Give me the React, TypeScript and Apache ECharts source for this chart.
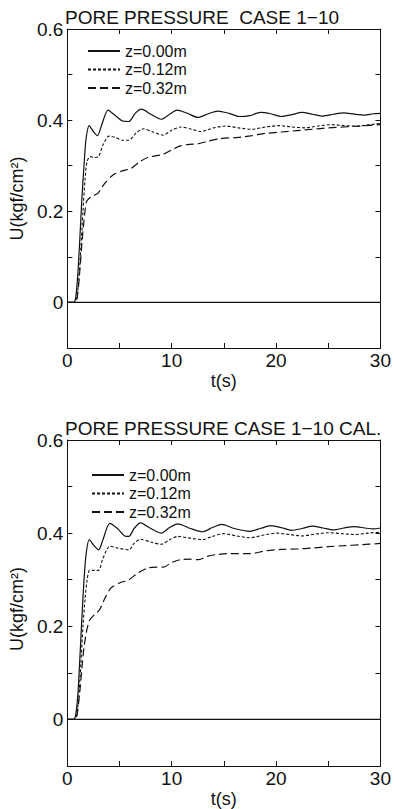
import React, { useEffect, useRef } from "react";
import * as echarts from "echarts";

const titles = ["PORE PRESSURE  CASE 1\u221210", "PORE PRESSURE CASE 1\u221210 CAL."];
const seriesNames = ["z=0.00m", "z=0.12m", "z=0.32m"];
const xName = "t(s)";
const yName = "U(kgf/cm\u00b2)";

// Measured case (top panel)
const measZ000: number[][] = [
  [0, 0], [0.6, 0], [0.8, 0.01], [1.0, 0.06], [1.2, 0.14], [1.4, 0.23], [1.6, 0.3], [1.8, 0.36],
  [2.1, 0.388], [2.5, 0.375], [2.9, 0.366], [3.3, 0.39], [3.9, 0.422], [4.6, 0.41], [5.3, 0.398],
  [5.9, 0.397], [6.5, 0.415], [7.1, 0.424], [8.0, 0.413], [9.0, 0.402], [9.8, 0.413], [10.5, 0.422],
  [11.5, 0.415], [12.5, 0.406], [13.5, 0.414], [14.4, 0.42], [15.5, 0.415], [16.5, 0.408],
  [17.5, 0.41], [18.5, 0.417], [19.5, 0.414], [20.5, 0.408], [21.5, 0.412], [22.5, 0.417],
  [23.5, 0.413], [24.5, 0.409], [25.5, 0.413], [26.5, 0.416], [27.5, 0.413], [28.5, 0.411],
  [29.3, 0.414], [30, 0.415],
];
const measZ012: number[][] = [
  [0, 0], [0.7, 0], [0.9, 0.01], [1.1, 0.05], [1.3, 0.12], [1.5, 0.2], [1.7, 0.27], [1.9, 0.31],
  [2.2, 0.32], [2.6, 0.318], [3.0, 0.32], [3.4, 0.345], [4.0, 0.365], [4.6, 0.362], [5.3, 0.356],
  [5.9, 0.356], [6.6, 0.372], [7.3, 0.381], [8.2, 0.374], [9.2, 0.367], [10.0, 0.378], [10.9, 0.385],
  [11.9, 0.38], [12.8, 0.375], [14.0, 0.383], [15.2, 0.387], [16.4, 0.383], [17.7, 0.38],
  [19, 0.385], [20.3, 0.388], [21.5, 0.385], [22.8, 0.383], [24, 0.387], [25.3, 0.39],
  [26.5, 0.388], [27.8, 0.387], [29, 0.39], [30, 0.393],
];
const measZ032: number[][] = [
  [0, 0], [0.8, 0], [1.0, 0.02], [1.2, 0.07], [1.4, 0.13], [1.6, 0.18], [1.85, 0.222], [2.3, 0.232],
  [2.95, 0.24], [3.6, 0.262], [4.4, 0.28], [5.2, 0.288], [6.1, 0.294], [6.9, 0.308], [7.7, 0.318],
  [8.5, 0.322], [9.2, 0.325], [10.1, 0.336], [10.9, 0.344], [11.7, 0.347], [12.5, 0.348],
  [13.5, 0.354], [14.6, 0.359], [15.5, 0.361], [16.4, 0.362], [17.7, 0.366], [19, 0.371],
  [20.5, 0.374], [22, 0.377], [23.5, 0.38], [25, 0.383], [26.5, 0.385], [28, 0.387], [30, 0.39],
];

// Calculated case (bottom panel)
const calcZ000: number[][] = [
  [0, 0], [0.6, 0], [0.8, 0.01], [1.0, 0.05], [1.2, 0.13], [1.4, 0.22], [1.6, 0.3], [1.8, 0.355],
  [2.1, 0.386], [2.6, 0.372], [3.0, 0.364], [3.4, 0.385], [4.07, 0.421], [4.8, 0.41], [5.5, 0.394],
  [5.9, 0.393], [6.4, 0.41], [7.0, 0.422], [8.0, 0.41], [9.0, 0.4], [9.8, 0.412], [10.6, 0.42],
  [11.8, 0.41], [12.95, 0.403], [13.9, 0.412], [14.8, 0.419], [16, 0.41], [17.5, 0.404],
  [18.5, 0.41], [19.5, 0.416], [20.5, 0.412], [21.5, 0.406], [22.5, 0.41], [23.5, 0.415],
  [24.5, 0.411], [25.5, 0.407], [26.5, 0.411], [27.5, 0.414], [28.5, 0.411], [29.3, 0.409],
  [30, 0.411],
];
const calcZ012: number[][] = [
  [0, 0], [0.7, 0], [0.9, 0.01], [1.1, 0.05], [1.3, 0.12], [1.5, 0.2], [1.7, 0.26], [1.9, 0.3],
  [2.13, 0.32], [2.6, 0.32], [3.0, 0.32], [3.4, 0.345], [4.07, 0.372], [4.8, 0.368], [5.9, 0.364],
  [6.4, 0.378], [7.0, 0.387], [8.0, 0.381], [9.0, 0.376], [9.8, 0.386], [10.6, 0.393],
  [11.8, 0.389], [12.95, 0.386], [13.9, 0.393], [14.9, 0.399], [16.2, 0.394], [17.5, 0.39],
  [18.8, 0.396], [20, 0.4], [21.3, 0.397], [22.5, 0.394], [23.8, 0.398], [25, 0.401],
  [26.3, 0.399], [27.5, 0.397], [28.8, 0.4], [30, 0.402],
];
const calcZ032: number[][] = [
  [0, 0], [0.8, 0], [1.0, 0.02], [1.2, 0.06], [1.4, 0.11], [1.6, 0.155], [1.85, 0.19],
  [2.13, 0.213], [2.6, 0.225], [3.07, 0.235], [3.6, 0.26], [4.17, 0.282], [5.0, 0.293],
  [5.9, 0.3], [6.8, 0.315], [7.7, 0.325], [8.5, 0.327], [9.2, 0.327], [10.0, 0.337],
  [10.8, 0.343], [11.7, 0.344], [12.6, 0.343], [13.4, 0.35], [14.3, 0.354], [15.5, 0.356],
  [17.5, 0.356], [19, 0.362], [20.5, 0.365], [22, 0.366], [23.5, 0.368], [25, 0.371],
  [26.5, 0.373], [28, 0.375], [30, 0.378],
];

const zeroLine: number[][] = [[0, 0], [30, 0]];

const FONT = "'Liberation Sans', Arial, Helvetica, sans-serif";
const INK = "#111";

export default function App() {
  const ref = useRef<HTMLDivElement>(null);
  useEffect(() => {
    if (!ref.current) return;
    const chart = echarts.init(ref.current, null, { renderer: "svg" });

    const grids = [
      { left: 62, top: 29, width: 319, height: 319 },
      { left: 64, top: 440, width: 319, height: 331 },
    ];
    const yNamePad = [[0, 20, 0, 0], [0, 12, 0, 0]];

    const xAxes: any[] = [];
    const yAxes: any[] = [];
    grids.forEach((_, i) => {
      const common = {
        type: "value",
        gridIndex: i,
        axisLine: { show: true, onZero: false, lineStyle: { color: INK, width: 1 } },
        axisTick: { show: true, inside: true, length: 5, lineStyle: { color: INK } },
        splitLine: { show: false },
      };
      xAxes.push({
        ...common,
        position: "bottom",
        min: 0,
        max: 30,
        interval: 5,
        name: xName,
        nameLocation: "middle",
        nameGap: 24,
        nameTextStyle: { fontFamily: FONT, fontSize: 18, color: INK },
        axisLabel: {
          margin: 3,
          fontFamily: FONT,
          fontSize: 19,
          color: INK,
          formatter: (v: number) => (Math.round(v) % 10 === 0 ? String(Math.round(v)) : ""),
        },
      });
      xAxes.push({
        ...common,
        position: "top",
        min: 0,
        max: 30,
        interval: 5,
        axisLabel: { show: false },
      });
      yAxes.push({
        ...common,
        position: "left",
        min: -0.1,
        max: 0.6,
        interval: 0.1,
        name: yName,
        nameLocation: "middle",
        nameGap: 36,
        nameRotate: 90,
        nameTextStyle: { fontFamily: FONT, fontSize: 18, color: INK, padding: yNamePad[i] },
        axisLabel: {
          margin: 4,
          fontFamily: FONT,
          fontSize: 19,
          color: INK,
          formatter: (v: number) => {
            const k = Math.round(v * 10);
            if (k < 0 || k % 2 !== 0) return "";
            return k === 0 ? "0" : (k / 10).toFixed(1);
          },
        },
      });
      yAxes.push({
        ...common,
        position: "right",
        min: -0.1,
        max: 0.6,
        interval: 0.1,
        axisLabel: { show: false },
      });
    });

    const styles = [
      { type: "solid", width: 1.2 },
      { type: [3, 2], width: 1.1 },
      { type: [8, 4], width: 1.2 },
    ];
    const datasets = [
      [measZ000, measZ012, measZ032],
      [calcZ000, calcZ012, calcZ032],
    ];
    const series: any[] = [];
    datasets.forEach((group, gi) => {
      group.forEach((d, si) => {
        series.push({
          type: "line",
          name: seriesNames[si],
          xAxisIndex: gi * 2,
          yAxisIndex: gi * 2,
          data: d,
          symbol: "none",
          showSymbol: false,
          smooth: 0.25,
          lineStyle: { color: INK, ...styles[si] },
          itemStyle: { color: INK },
        });
      });
      series.push({
        type: "line",
        name: "zero",
        xAxisIndex: gi * 2,
        yAxisIndex: gi * 2,
        data: zeroLine,
        symbol: "none",
        silent: true,
        lineStyle: { color: INK, width: 1.2, type: "solid" },
      });
    });

    const legendCommon = {
      orient: "vertical",
      data: seriesNames,
      itemWidth: 32,
      itemHeight: 14,
      itemGap: 2.5,
      selectedMode: false,
      itemStyle: { opacity: 0 },
      textStyle: { fontFamily: FONT, fontSize: 16, color: INK },
    };

    chart.setOption({
      animation: false,
      backgroundColor: "#fff",
      title: [
        {
          text: titles[0],
          left: 60,
          top: 3,
          textStyle: { fontFamily: FONT, fontSize: 19, fontWeight: "normal", color: INK },
        },
        {
          text: titles[1],
          left: 60,
          top: 414,
          textStyle: { fontFamily: FONT, fontSize: 19, fontWeight: "normal", color: INK },
        },
      ],
      legend: [
        { ...legendCommon, left: 82, top: 38 },
        { ...legendCommon, left: 86, top: 462 },
      ],
      grid: grids.map((g) => ({ ...g, containLabel: false })),
      xAxis: xAxes,
      yAxis: yAxes,
      series,
    });
    return () => chart.dispose();
  }, []);
  return (
    <div
      ref={ref}
      style={{ position: "fixed", left: 0, top: 0, width: 394, height: 809, background: "#fff" }}
    />
  );
}
